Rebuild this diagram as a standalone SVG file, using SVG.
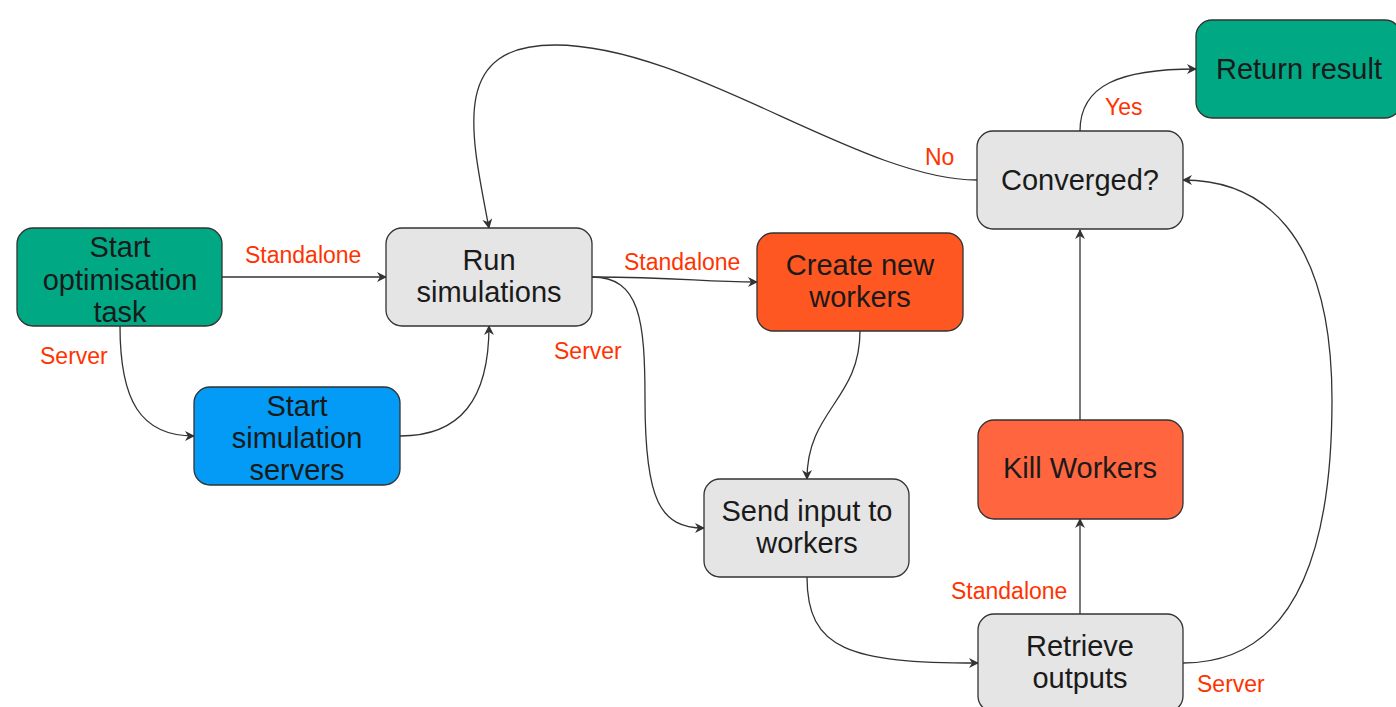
<svg xmlns="http://www.w3.org/2000/svg" width="1396" height="707" viewBox="0 0 1396 707">
<defs>
<marker id="ah" viewBox="0 0 10 10" refX="9" refY="5" markerWidth="10" markerHeight="10" markerUnits="userSpaceOnUse" orient="auto">
<path d="M0,0 L10,5 L0,10 L3,5 Z" fill="#333"/>
</marker>
</defs>
<style>
.n{stroke:#333;stroke-width:1.3}
.t{font-family:"Liberation Sans",Arial,sans-serif;font-size:29px;fill:#1a1a1a;text-anchor:middle}
.l{font-family:"Liberation Sans",Arial,sans-serif;font-size:23px;fill:#ff3300}
.c{fill:none;stroke:#333;stroke-width:1.3;marker-end:url(#ah)}
</style>
<rect width="1396" height="707" fill="#fff"/>
<g id="connectors">
<path class="c" d="M222,277 L386,277"/>
<path class="c" d="M120,326 C120,400 140,436 194,436"/>
<path class="c" d="M400,436 C460,436 489,400 489,326"/>
<path class="c" d="M977,180 C860,180 690,45 555,45 C450,45 470,130 489,228"/>
<path class="c" d="M592,277 C680,277 700,282 757,282"/>
<path class="c" d="M592,277 C640,277 645,320 645,400 C645,500 660,528 704,528"/>
<path class="c" d="M860,331 C860,400 807,410 807,479"/>
<path class="c" d="M807,577 C807,650 850,663 978,663"/>
<path class="c" d="M1080,614 L1080,519"/>
<path class="c" d="M1080,420 L1080,230"/>
<path class="c" d="M1183,663 C1290,663 1332,560 1332,400 C1332,230 1260,180 1183,180"/>
<path class="c" d="M1080,131 C1080,85 1120,69 1196,69"/>
</g>
<g id="labels">
<text class="l" x="245" y="263">Standalone</text>
<text class="l" x="40" y="364">Server</text>
<text class="l" x="624" y="270">Standalone</text>
<text class="l" x="554" y="359">Server</text>
<text class="l" x="925" y="165">No</text>
<text class="l" x="1105" y="115">Yes</text>
<text class="l" x="951" y="599">Standalone</text>
<text class="l" x="1197" y="692">Server</text>
</g>
<g id="start-opt">
<rect class="n" x="17" y="228" width="205" height="98" rx="16" fill="#00a884"/>
<text class="t" x="120" y="257">Start</text>
<text class="t" x="120" y="290">optimisation</text>
<text class="t" x="120" y="322">task</text>
</g>
<g id="start-servers">
<rect class="n" x="194" y="387" width="206" height="98" rx="16" fill="#039bf5"/>
<text class="t" x="297" y="416">Start</text>
<text class="t" x="297" y="448">simulation</text>
<text class="t" x="297" y="480">servers</text>
</g>
<g id="run-sims">
<rect class="n" x="386" y="228" width="206" height="98" rx="16" fill="#e5e5e5"/>
<text class="t" x="489" y="270">Run</text>
<text class="t" x="489" y="302">simulations</text>
</g>
<g id="create-workers">
<rect class="n" x="757" y="233" width="206" height="98" rx="16" fill="#ff5722"/>
<text class="t" x="860" y="275">Create new</text>
<text class="t" x="860" y="307">workers</text>
</g>
<g id="send-input">
<rect class="n" x="704" y="479" width="205" height="98" rx="16" fill="#e5e5e5"/>
<text class="t" x="807" y="521">Send input to</text>
<text class="t" x="807" y="553">workers</text>
</g>
<g id="converged">
<rect class="n" x="977" y="131" width="206" height="98" rx="16" fill="#e5e5e5"/>
<text class="t" x="1080" y="190">Converged?</text>
</g>
<g id="return-result">
<rect class="n" x="1196" y="20" width="205" height="98" rx="16" fill="#00a884"/>
<text class="t" x="1299" y="79">Return result</text>
</g>
<g id="kill-workers">
<rect class="n" x="978" y="420" width="205" height="99" rx="16" fill="#ff6640"/>
<text class="t" x="1080" y="478">Kill Workers</text>
</g>
<g id="retrieve">
<rect class="n" x="978" y="614" width="205" height="98" rx="16" fill="#e5e5e5"/>
<text class="t" x="1080" y="656">Retrieve</text>
<text class="t" x="1080" y="688">outputs</text>
</g>
</svg>
